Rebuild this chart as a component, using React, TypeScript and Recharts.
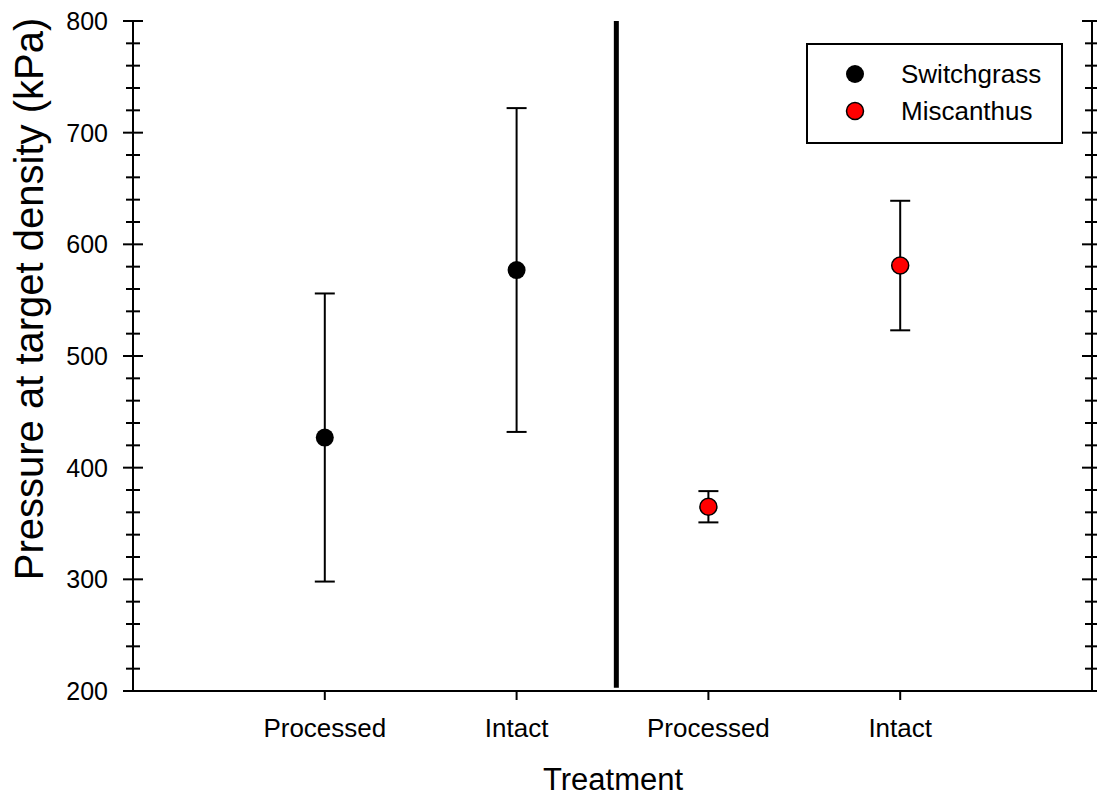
import React from 'react';
import { ComposedChart, Scatter, XAxis, YAxis, ErrorBar, ReferenceLine, Legend, Label } from 'recharts';

const treatments = ['Processed', 'Intact', 'Processed', 'Intact'];
const treatmentPositions = [1, 2, 3, 4];
const switchgrassMean = [427, 577];
const switchgrassErr = [129, 145];
const miscanthusMean = [365, 581];
const miscanthusErr = [14, 58];
const yTicks = [200, 220, 240, 260, 280, 300, 320, 340, 360, 380, 400, 420, 440, 460, 480, 500, 520, 540, 560, 580, 600, 620, 640, 660, 680, 700, 720, 740, 760, 780, 800];
const seriesNames = ['Switchgrass', 'Miscanthus'];
const seriesColors = ['#000000', '#FF0000'];
const dividerX = 2.52;
const yTitle = 'Pressure at target density (kPa)';
const xTitle = 'Treatment';

const FONT = '"Liberation Sans", Arial, sans-serif';
const CHART_W = 1097;
const CHART_H = 799;
const MARGIN = { top: 21, right: 4, bottom: 0, left: 0 };
const Y_AXIS_W = 133;
const RIGHT_AXIS_W = 1;
const PLOT_W = CHART_W - MARGIN.right - MARGIN.left - Y_AXIS_W - RIGHT_AXIS_W;

const switchgrassData = switchgrassMean.map((m, i) => ({ x: treatmentPositions[i], y: m, err: switchgrassErr[i] }));
const miscanthusData = miscanthusMean.map((m, i) => ({ x: treatmentPositions[i + 2], y: m, err: miscanthusErr[i] }));

const LeftTick = (props: any) => {
  const { x, y, payload } = props;
  const v = payload.value;
  const major = v % 100 === 0;
  const len = major ? 10 : 7;
  const xr = x + PLOT_W;
  return (
    <g>
      <line x1={x - len} x2={x + len} y1={y} y2={y} stroke="#000" strokeWidth={2} />
      <line x1={xr - len} x2={xr + len} y1={y} y2={y} stroke="#000" strokeWidth={2} />
      {major && (
        <text x={x - 25} y={y} textAnchor="end" dominantBaseline="central" fontSize={25} fontFamily={FONT} fill="#000">
          {v}
        </text>
      )}
    </g>
  );
};

const BottomTick = (props: any) => {
  const { x, y, payload } = props;
  const idx = treatmentPositions.indexOf(payload.value);
  return (
    <text x={x} y={y + 37} textAnchor="middle" fontSize={26} fontFamily={FONT} fill="#000">
      {treatments[idx]}
    </text>
  );
};

const makeDot = (fill: string, stroke: string | undefined) => (props: any) => {
  const { cx, cy } = props;
  return <circle cx={cx} cy={cy} r={stroke ? 8.5 : 9} fill={fill} stroke={stroke || 'none'} strokeWidth={1.5} />;
};

const LegendBox = () => (
  <svg width={257} height={101} style={{ display: 'block' }}>
    <rect x={1} y={1} width={255} height={99} fill="#fff" stroke="#000" strokeWidth={2} />
    {seriesNames.map((n, i) => (
      <g key={n}>
        <circle cx={49} cy={31 + i * 37} r={i === 0 ? 9 : 8.5} fill={seriesColors[i]} stroke={i === 0 ? 'none' : '#000'} strokeWidth={1.5} />
        <text x={95} y={31 + i * 37} dominantBaseline="central" fontSize={26} fontFamily={FONT} fill="#000">
          {n}
        </text>
      </g>
    ))}
  </svg>
);

export default function App() {
  return (
    <div style={{ position: 'absolute', left: 0, top: 0, width: CHART_W, height: CHART_H, background: '#fff' }}>
      <ComposedChart width={CHART_W} height={CHART_H} margin={MARGIN} style={{ fontFamily: FONT }}>
        <XAxis
          dataKey="x"
          type="number"
          domain={[0, 5]}
          ticks={treatmentPositions}
          interval={0}
          height={108}
          tickSize={9}
          tickMargin={0}
          axisLine={{ stroke: '#000', strokeWidth: 2 }}
          tickLine={{ stroke: '#000', strokeWidth: 2 }}
          tick={BottomTick}
          allowDataOverflow
        >
          <Label
            content={() => (
              <text x={613} y={790} textAnchor="middle" fontSize={31} fontFamily={FONT} fill="#000">
                {xTitle}
              </text>
            )}
          />
        </XAxis>
        <XAxis
          xAxisId="top"
          orientation="top"
          type="number"
          domain={[0, 5]}
          height={0}
          tick={false}
          tickLine={false}
          axisLine={{ stroke: '#000', strokeWidth: 2 }}
        />
        <YAxis
          type="number"
          domain={[200, 800]}
          ticks={yTicks}
          interval={0}
          width={Y_AXIS_W}
          tickSize={0}
          tickMargin={0}
          axisLine={{ stroke: '#000', strokeWidth: 2 }}
          tickLine={false}
          tick={LeftTick}
          allowDataOverflow
        >
          <Label
            content={() => (
              <text transform="translate(43,299) rotate(-90)" textAnchor="middle" fontSize={40} fontFamily={FONT} fill="#000">
                {yTitle}
              </text>
            )}
          />
        </YAxis>
        <YAxis
          yAxisId="right"
          orientation="right"
          type="number"
          domain={[200, 800]}
          ticks={[200, 800]}
          width={RIGHT_AXIS_W}
          tick={false}
          tickLine={false}
          axisLine={{ stroke: '#000', strokeWidth: 2 }}
        />
        <ReferenceLine
          segment={[{ x: dividerX, y: 800 }, { x: dividerX, y: 203 }]}
          stroke="#000"
          strokeWidth={5}
          ifOverflow="visible"
        />
        <Legend
          content={LegendBox}
          layout="horizontal"
          verticalAlign="middle"
          align="center"
          wrapperStyle={{ left: 806, top: 43, width: 257, height: 101 }}
        />
        <Scatter name={seriesNames[0]} data={switchgrassData} dataKey="y" fill={seriesColors[0]} shape={makeDot(seriesColors[0], undefined)} isAnimationActive={false}>
          <ErrorBar dataKey="err" direction="y" width={10} stroke="#000" strokeWidth={2} isAnimationActive={false} />
        </Scatter>
        <Scatter name={seriesNames[1]} data={miscanthusData} dataKey="y" fill={seriesColors[1]} shape={makeDot(seriesColors[1], '#000')} isAnimationActive={false}>
          <ErrorBar dataKey="err" direction="y" width={10} stroke="#000" strokeWidth={2} isAnimationActive={false} />
        </Scatter>
      </ComposedChart>
    </div>
  );
}
